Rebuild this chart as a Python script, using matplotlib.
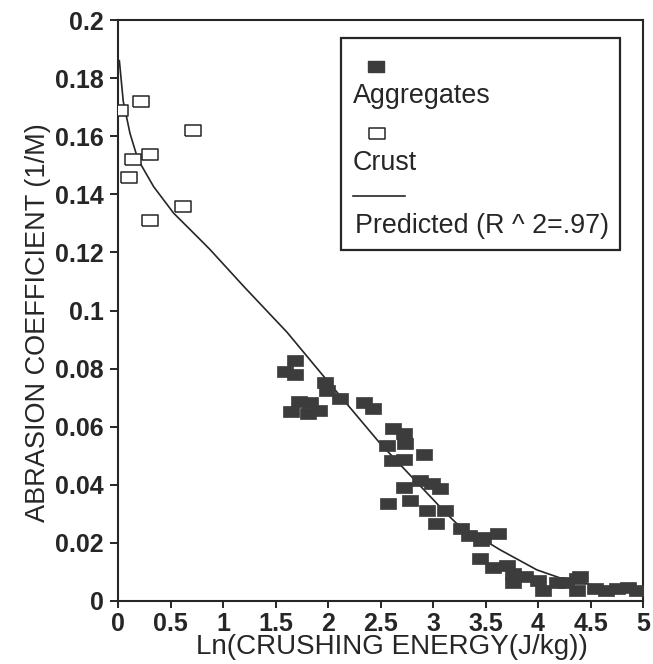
import matplotlib
matplotlib.use("Agg")
import matplotlib.pyplot as plt
from matplotlib.patches import Rectangle
from matplotlib.lines import Line2D

# ---- data ----
crust_x = [0.02, 0.22, 0.71, 0.14, 0.30, 0.10, 0.62, 0.30]
crust_y = [0.169, 0.172, 0.162, 0.152, 0.154, 0.146, 0.136, 0.131]

agg_x = [1.59, 1.69, 1.69, 1.97, 1.99, 2.11, 1.72, 1.83, 1.65, 1.81, 1.91,
         2.34, 2.43, 2.62, 2.72, 2.56, 2.73, 2.61, 2.72, 2.91, 2.72, 2.88,
         2.99, 3.07, 2.57, 2.78, 2.94, 3.11, 3.03, 3.27, 3.34, 3.48, 3.62,
         3.46, 3.45, 3.57, 3.70, 3.76, 3.76, 3.88, 4.00, 4.05, 4.18, 4.27,
         4.37, 4.40, 4.37, 4.54, 4.65, 4.75, 4.86, 4.94]
agg_y = [0.0793, 0.0830, 0.0780, 0.0755, 0.0726, 0.0698, 0.0688, 0.0686,
         0.0655, 0.0648, 0.0657, 0.0686, 0.0663, 0.0594, 0.0577, 0.0537,
         0.0543, 0.0485, 0.0488, 0.0505, 0.0394, 0.0417, 0.0407, 0.0388,
         0.0338, 0.0348, 0.0313, 0.0313, 0.0267, 0.0250, 0.0227, 0.0221,
         0.0235, 0.0210, 0.0147, 0.0118, 0.0125, 0.0095, 0.0066, 0.0087,
         0.0074, 0.0038, 0.0066, 0.0066, 0.0078, 0.0085, 0.0038, 0.0044,
         0.0038, 0.0044, 0.0047, 0.0038]

pred_x = [0.013, 0.05, 0.114, 0.19, 0.34, 0.53, 0.78, 0.876, 1.2, 1.61,
          1.955, 2.495, 3.13, 3.225, 3.64, 3.99, 4.27, 4.6, 5.0]
pred_y = [0.186, 0.172, 0.161, 0.152, 0.1426, 0.1335, 0.1245, 0.1210, 0.1082,
          0.0925, 0.0775, 0.0543, 0.030, 0.0267, 0.0176, 0.0107, 0.0072,
          0.0050, 0.0040]

xticks = [0, 0.5, 1, 1.5, 2, 2.5, 3, 3.5, 4, 4.5, 5]
xtick_labels = ["0", "0.5", "1", "1.5", "2", "2.5", "3", "3.5", "4", "4.5", "5"]
yticks = [0, 0.02, 0.04, 0.06, 0.08, 0.1, 0.12, 0.14, 0.16, 0.18, 0.2]
ytick_labels = ["0", "0.02", "0.04", "0.06", "0.08", "0.1", "0.12", "0.14",
                "0.16", "0.18", "0.2"]

labels = ["Aggregates", "Crust", "Predicted (R ^ 2=.97)"]
xlabel = "Ln(CRUSHING ENERGY(J/kg))"
ylabel = "ABRASION COEFFICIENT (1/M)"

# ---- style ----
ink = "#262626"
mark_col = "#3c3c3c"
plt.rcParams['font.family'] = ['Liberation Sans', 'DejaVu Sans']

rect = [(-1, -0.72), (1, -0.72), (1, 0.72), (-1, 0.72), (-1, -0.72)]

W, H = 653, 664
fig = plt.figure(figsize=(W / 100, H / 100), dpi=100)
ax_l, ax_r, ax_t, ax_b = 118, 643, 20, 601
ax = fig.add_axes([ax_l / W, 1 - ax_b / H, (ax_r - ax_l) / W, (ax_b - ax_t) / H])

ax.plot(pred_x, pred_y, color=ink, lw=1.2, zorder=2)
ax.plot(agg_x, agg_y, linestyle='none', marker=rect, ms=11, mfc=mark_col,
        mec=mark_col, mew=0.5, zorder=3)
ax.plot(crust_x, crust_y, linestyle='none', marker=rect, ms=11, mfc='white',
        mec=ink, mew=1.1, zorder=3)

ax.set_xlim(0, 5)
ax.set_ylim(0, 0.2)
ax.set_xticks(xticks)
ax.set_xticklabels(xtick_labels)
ax.set_yticks(yticks)
ax.set_yticklabels(ytick_labels)
ax.tick_params(axis='both', direction='out', width=1.4, colors=ink)
ax.tick_params(axis='x', length=5, pad=3)
ax.tick_params(axis='y', length=6, pad=4)
for lab in ax.get_xticklabels() + ax.get_yticklabels():
    lab.set_fontweight('bold')
    lab.set_fontsize(18)
for s in ax.spines.values():
    s.set_linewidth(1.5)
    s.set_color(ink)

ax.set_xlabel(xlabel, fontsize=20, color=ink)
ax.xaxis.set_label_coords((392 - ax_l) / (ax_r - ax_l), (ax_b - 634) / (ax_b - ax_t))
ax.xaxis.label.set_va('top')
ax.set_ylabel(ylabel, fontsize=19.5, color=ink)
ax.yaxis.set_label_coords((38 - ax_l) / (ax_r - ax_l), (ax_b - 323) / (ax_b - ax_t))
ax.yaxis.label.set_va('center')

# ---- legend (manual, marker above label) ----
lx0, lx1, ly_top, ly_bot = 341 / W, 620 / W, 1 - 38 / H, 1 - 250 / H
fig.patches.append(Rectangle((lx0, ly_bot), lx1 - lx0, ly_top - ly_bot,
                             transform=fig.transFigure, fill=False,
                             edgecolor=ink, lw=1.6, zorder=5))
fig.lines.append(Line2D([376 / W], [1 - 66 / H], transform=fig.transFigure,
                        marker=rect, ms=11, mfc=mark_col, mec=mark_col,
                        linestyle='none'))
fig.lines.append(Line2D([377 / W], [1 - 133 / H], transform=fig.transFigure,
                        marker=rect, ms=11, mfc='white', mec=ink, mew=1.1,
                        linestyle='none'))
fig.lines.append(Line2D([353 / W, 405 / W], [1 - 196 / H, 1 - 196 / H],
                        transform=fig.transFigure, color=ink, lw=1.2))
fig.text(353 / W, 1 - 103 / H, labels[0], fontsize=19.4, color=ink, va='baseline')
fig.text(353 / W, 1 - 170 / H, labels[1], fontsize=19.4, color=ink, va='baseline')
fig.text(355 / W, 1 - 233 / H, labels[2], fontsize=19.4, color=ink, va='baseline')

fig.savefig("out.png", dpi=100, facecolor='white')
